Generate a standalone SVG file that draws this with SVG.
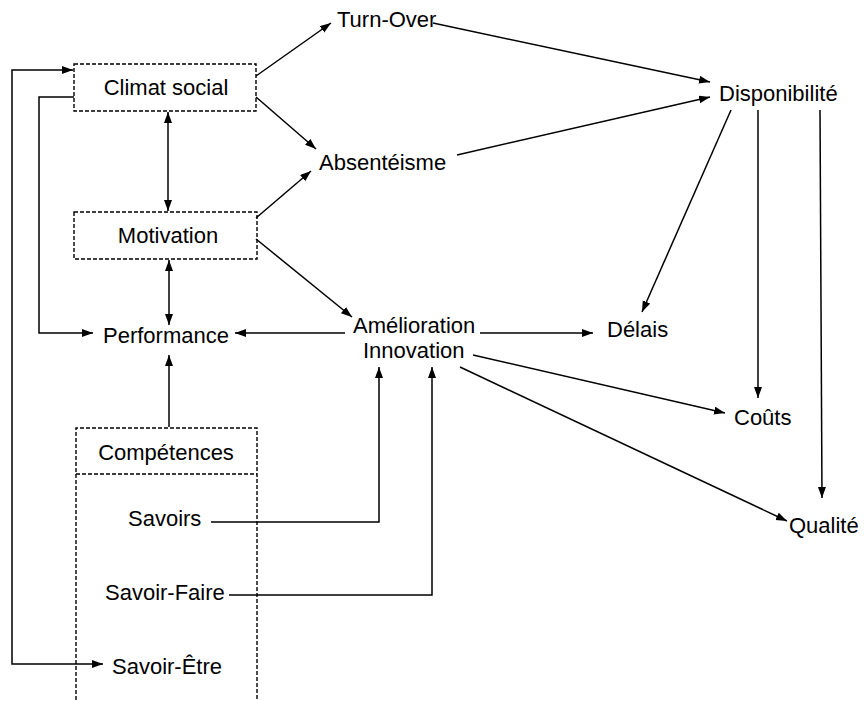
<svg xmlns="http://www.w3.org/2000/svg" width="864" height="701" viewBox="0 0 864 701">
<style>
text{font-family:"Liberation Sans",Arial,sans-serif;font-size:22px;fill:#000}
.box{fill:none;stroke:#000;stroke-width:1.4;stroke-dasharray:4 2}
.c{fill:none;stroke:#000;stroke-width:1.5}
.a{marker-end:url(#ah)}
.b{marker-start:url(#ahs);marker-end:url(#ah)}
</style>
<defs>
<marker id="ah" markerWidth="12" markerHeight="10" refX="11" refY="4" orient="auto" markerUnits="userSpaceOnUse"><path d="M0,0 L11,4 L0,8 Z" fill="#000"/></marker>
<marker id="ahs" markerWidth="12" markerHeight="10" refX="0" refY="4" orient="auto" markerUnits="userSpaceOnUse"><path d="M11,0 L0,4 L11,8 Z" fill="#000"/></marker>
</defs>
<rect width="864" height="701" fill="#fff"/>
<g id="connectors">
<line class="c b" x1="168" y1="112" x2="168" y2="211"/>
<line class="c b" x1="169" y1="260" x2="169" y2="325"/>
<line class="c a" x1="169" y1="427" x2="169" y2="355"/>
<polyline class="c a" points="74,97 39,97 39,333 93,333"/>
<polyline class="c b" points="103,664 12,664 12,70 73,70"/>
<line class="c a" x1="256" y1="76" x2="331" y2="23"/>
<line class="c a" x1="256" y1="97" x2="316" y2="149"/>
<line class="c a" x1="256" y1="218" x2="311" y2="171"/>
<line class="c a" x1="256" y1="239" x2="352" y2="317"/>
<line class="c a" x1="433" y1="23" x2="710" y2="82"/>
<line class="c a" x1="457" y1="155" x2="710" y2="97"/>
<line class="c a" x1="731" y1="110" x2="642" y2="312"/>
<line class="c a" x1="758" y1="110" x2="758" y2="398"/>
<line class="c a" x1="820" y1="110" x2="822" y2="498"/>
<line class="c a" x1="480" y1="333" x2="593" y2="333"/>
<line class="c a" x1="345" y1="333" x2="235" y2="333"/>
<line class="c a" x1="473" y1="355" x2="725" y2="413"/>
<line class="c a" x1="460" y1="367" x2="787" y2="521"/>
<polyline class="c a" points="211,522 379,522 379,367"/>
<polyline class="c a" points="229,595 432,595 432,367"/>
</g>
<g id="climat-social">
<rect class="box" x="74" y="64" width="182" height="47"/>
<text x="166" y="95" text-anchor="middle">Climat social</text>
</g>
<g id="motivation">
<rect class="box" x="74" y="212" width="183" height="47"/>
<text x="168" y="243" text-anchor="middle">Motivation</text>
</g>
<g id="performance"><text x="103" y="343">Performance</text></g>
<g id="competences">
<path class="box" d="M76,700 L76,428 L257,428 L257,700 M76,474 L257,474"/>
<text x="166" y="460" text-anchor="middle">Compétences</text>
</g>
<g id="savoirs"><text x="128" y="526">Savoirs</text></g>
<g id="savoir-faire"><text x="105" y="600">Savoir-Faire</text></g>
<g id="savoir-etre"><text x="112" y="674">Savoir-Être</text></g>
<g id="turn-over"><text x="337" y="27">Turn-Over</text></g>
<g id="absenteisme"><text x="319" y="170">Absentéisme</text></g>
<g id="amelioration"><text x="353" y="333">Amélioration</text><text x="363" y="358">Innovation</text></g>
<g id="disponibilite"><text x="719" y="101">Disponibilité</text></g>
<g id="delais"><text x="607" y="337">Délais</text></g>
<g id="couts"><text x="734" y="425">Coûts</text></g>
<g id="qualite"><text x="789" y="533">Qualité</text></g>
</svg>
